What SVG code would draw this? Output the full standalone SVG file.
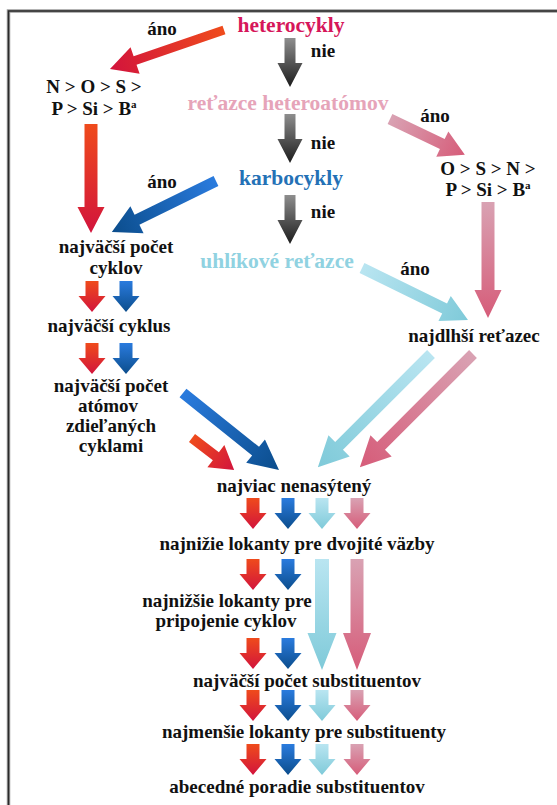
<svg xmlns="http://www.w3.org/2000/svg" width="557" height="805" viewBox="0 0 557 805">
  <defs>
    <style>
      text { font-family: 'Liberation Serif', 'Times New Roman', 'DejaVu Serif', serif; font-weight: bold; text-anchor: middle; }
      .t { font-size: 19px; fill: #111; }
      .lab { font-size: 19px; fill: #111; }
      .head { font-size: 21.5px; }
      .sup { font-size: 11px; }
      .red { fill: url(#gRed); }
      .blue { fill: url(#gBlue); }
      .cyan { fill: url(#gCyan); }
      .pink { fill: url(#gPink); }
      .gray { fill: url(#gGray); }
    </style>
    <linearGradient id="gRed" x1="0" y1="0" x2="0" y2="1">
      <stop offset="0" stop-color="#ef4b1c"/>
      <stop offset="1" stop-color="#d2143c"/>
    </linearGradient>
    <linearGradient id="gBlue" x1="0" y1="0" x2="0" y2="1">
      <stop offset="0" stop-color="#2a7bde"/>
      <stop offset="1" stop-color="#0b4d8c"/>
    </linearGradient>
    <linearGradient id="gCyan" x1="0" y1="0" x2="0" y2="1">
      <stop offset="0" stop-color="#b9e5f1"/>
      <stop offset="1" stop-color="#7fcad9"/>
    </linearGradient>
    <linearGradient id="gPink" x1="0" y1="0" x2="0" y2="1">
      <stop offset="0" stop-color="#d9a2b3"/>
      <stop offset="1" stop-color="#d65c79"/>
    </linearGradient>
    <linearGradient id="gGray" x1="0" y1="0" x2="0" y2="1">
      <stop offset="0" stop-color="#8e8e8e"/>
      <stop offset="1" stop-color="#1c1c1c"/>
    </linearGradient>
    <!-- small downward block arrow used in the step rows -->
    <path id="sa" d="M-6.5 0 H6.5 V15 H13.5 L0 31 L-13.5 15 H-6.5 Z"/>
    <!-- gray "nie" arrow -->
    <path id="ga" d="M-5.5 0 H5.5 V25 H12.5 L0 49 L-12.5 25 H-5.5 Z"/>
  </defs>

  <rect width="557" height="805" fill="#fff"/>

  <!-- frame -->
  <path d="M8.5 812 V11 H562" fill="none" stroke="#9a9a9a" stroke-width="3.5"/>
  <path d="M8.5 812 V11 H562" fill="none" stroke="#2a2a2a" stroke-width="1.5"/>

  <g id="connectors">
    <!-- nie arrows -->
    <use href="#ga" class="gray" transform="translate(290,38)"/>
    <use href="#ga" class="gray" transform="translate(290,114)"/>
    <use href="#ga" class="gray" transform="translate(290,195)"/>

    <!-- heterocykly -> N > O > S ... -->
    <path class="red" transform="translate(224,30) rotate(71.1)" d="M-4.5 0 H4.5 V94 H14 L0 120.5 L-14 94 H-4.5 Z"/>
    <!-- N > O > S ... -> najväčší počet cyklov -->
    <path class="red" transform="translate(91,124)" d="M-6.5 0 H6.5 V83 H13.5 L0 109 L-13.5 83 H-6.5 Z"/>
    <!-- karbocykly -> najväčší počet cyklov -->
    <path class="blue" transform="translate(216,181) rotate(63.9)" d="M-5.5 0 H5.5 V88 H15 L0 116 L-15 88 H-5.5 Z"/>
    <!-- reťazce heteroatómov -> O > S > N ... -->
    <path class="pink" transform="translate(390,119) rotate(-64.4)" d="M-5.5 0 H5.5 V58 H14 L0 83 L-14 58 H-5.5 Z"/>
    <!-- O > S > N ... -> najdlhší reťazec -->
    <path class="pink" transform="translate(488,202)" d="M-6.5 0 H6.5 V88 H13.5 L0 116 L-13.5 88 H-6.5 Z"/>
    <!-- uhlíkové reťazce -> najdlhší reťazec -->
    <path class="cyan" transform="translate(362,268) rotate(-63.9)" d="M-5.5 0 H5.5 V92 H14 L0 118 L-14 92 H-5.5 Z"/>
    <!-- najdlhší reťazec -> najviac nenasýtený -->
    <path class="cyan" transform="translate(431,354) rotate(45)" d="M-5.5 0 H5.5 V130 H15 L0 160 L-15 130 H-5.5 Z"/>
    <path class="pink" transform="translate(473,354) rotate(45)" d="M-5.5 0 H5.5 V130 H15 L0 160 L-15 130 H-5.5 Z"/>
    <!-- cycle branch -> najviac nenasýtený -->
    <path class="blue" transform="translate(183,393) rotate(-51.3)" d="M-5.5 0 H5.5 V93 H15 L0 123 L-15 93 H-5.5 Z"/>
    <path class="red" transform="translate(192,438) rotate(-52.7)" d="M-5 0 H5 V30 H14 L0 53 L-14 30 H-5 Z"/>

    <!-- left column steps -->
    <use href="#sa" class="red" transform="translate(92,281)"/>
    <use href="#sa" class="blue" transform="translate(126,281)"/>
    <use href="#sa" class="red" transform="translate(92,343)"/>
    <use href="#sa" class="blue" transform="translate(126,343)"/>

    <!-- shared steps -->
    <use href="#sa" class="red" transform="translate(253,498)"/>
    <use href="#sa" class="blue" transform="translate(288,498)"/>
    <use href="#sa" class="cyan" transform="translate(322,498)"/>
    <use href="#sa" class="pink" transform="translate(357,498)"/>

    <use href="#sa" class="red" transform="translate(253,559)"/>
    <use href="#sa" class="blue" transform="translate(288,559)"/>
    <path class="cyan" transform="translate(322,559)" d="M-7 0 H7 V74 H14.5 L0 111 L-14.5 74 H-7 Z"/>
    <path class="pink" transform="translate(357,559)" d="M-6.5 0 H6.5 V74 H14 L0 111 L-14 74 H-6.5 Z"/>

    <use href="#sa" class="red" transform="translate(253,638)"/>
    <use href="#sa" class="blue" transform="translate(288,638)"/>

    <use href="#sa" class="red" transform="translate(253,690)"/>
    <use href="#sa" class="blue" transform="translate(288,690)"/>
    <use href="#sa" class="cyan" transform="translate(322,690)"/>
    <use href="#sa" class="pink" transform="translate(357,690)"/>

    <use href="#sa" class="red" transform="translate(253,744)"/>
    <use href="#sa" class="blue" transform="translate(288,744)"/>
    <use href="#sa" class="cyan" transform="translate(322,744)"/>
    <use href="#sa" class="pink" transform="translate(357,744)"/>
  </g>

  <g font-family="'Liberation Serif', 'Times New Roman', serif" font-weight="bold">
  <g id="edge-labels">
    <text class="lab" x="162" y="35">áno</text>
    <text class="lab" x="323" y="57">nie</text>
    <text class="lab" x="323" y="149">nie</text>
    <text class="lab" x="162" y="188">áno</text>
    <text class="lab" x="323" y="218">nie</text>
    <text class="lab" x="435" y="122">áno</text>
    <text class="lab" x="415" y="275">áno</text>
  </g>

  <g id="heterocykly"><text class="head" x="291" y="32" fill="#d6165a">heterocykly</text></g>
  <g id="retazce-heteroatomov"><text class="head" x="288" y="110" fill="#e6a4b9">reťazce heteroatómov</text></g>
  <g id="karbocykly"><text class="head" x="291" y="185" fill="#2471b6">karbocykly</text></g>
  <g id="uhlikove-retazce"><text class="head" x="277" y="268" fill="#90d2e1">uhlíkové reťazce</text></g>

  <g id="poradie-cyklicke">
    <text class="t" x="94" y="93">N &gt; O &gt; S &gt;</text>
    <text class="t" x="94" y="115">P &gt; Si &gt; B<tspan class="sup" dy="-7">a</tspan></text>
  </g>
  <g id="poradie-retazce">
    <text class="t" x="488" y="175">O &gt; S &gt; N &gt;</text>
    <text class="t" x="488" y="196">P &gt; Si &gt; B<tspan class="sup" dy="-7">a</tspan></text>
  </g>

  <g id="najvacsi-pocet-cyklov">
    <text class="t" x="116" y="253">najväčší počet</text>
    <text class="t" x="116" y="274">cyklov</text>
  </g>
  <g id="najvacsi-cyklus"><text class="t" x="109" y="332">najväčší cyklus</text></g>
  <g id="najvacsi-pocet-atomov">
    <text class="t" x="111" y="392">najväčší počet</text>
    <text class="t" x="108" y="412">atómov</text>
    <text class="t" x="111" y="432">zdieľaných</text>
    <text class="t" x="111" y="452">cyklami</text>
  </g>
  <g id="najdlhsi-retazec"><text class="t" x="474" y="342">najdlhší reťazec</text></g>

  <g id="najviac-nenasyteny"><text class="t" x="294" y="492">najviac nenasýtený</text></g>
  <g id="lokanty-dvojite"><text class="t" x="297" y="550">najnižie lokanty pre dvojité väzby</text></g>
  <g id="lokanty-pripojenie">
    <text class="t" x="227" y="607">najnižšie lokanty pre</text>
    <text class="t" x="226" y="627">pripojenie cyklov</text>
  </g>
  <g id="pocet-substituentov"><text class="t" x="307" y="687">najväčší počet substituentov</text></g>
  <g id="lokanty-substituenty"><text class="t" x="304" y="738">najmenšie lokanty pre substituenty</text></g>
  <g id="abecedne-poradie"><text class="t" x="297" y="793">abecedné poradie substituentov</text></g>
  </g>
</svg>
